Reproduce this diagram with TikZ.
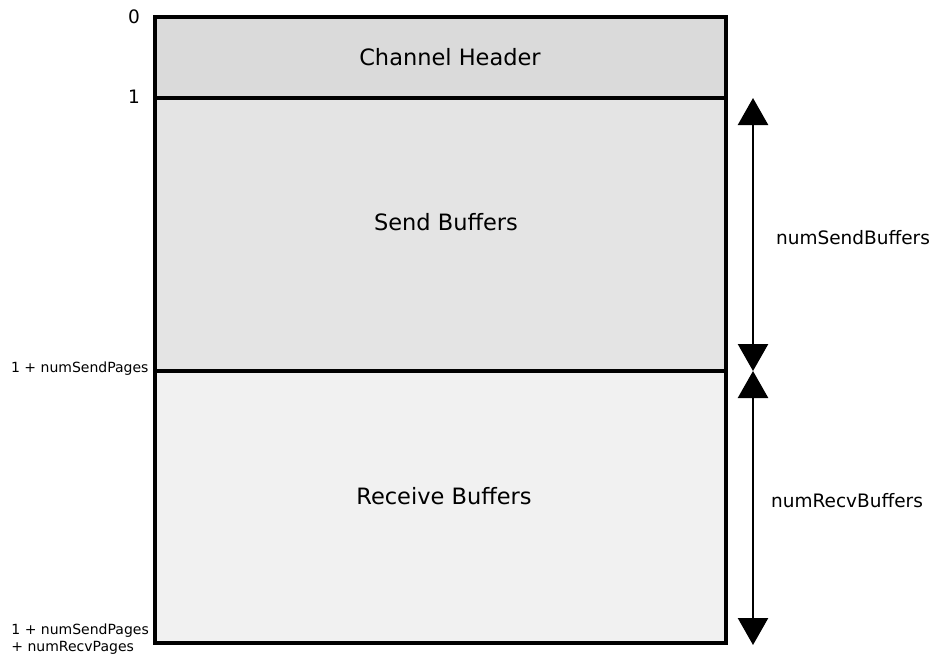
\documentclass[tikz,border=0pt]{standalone}
\usepackage{fontspec}
\setmainfont{DejaVu Sans}
\usetikzlibrary{arrows.meta}
\begin{document}
\begin{tikzpicture}[x=1pt,y=-1pt,
  region/.style={draw=black,line width=3.5pt},
  big/.style={font=\fontsize{22.5}{26}\selectfont},
  mid/.style={font=\fontsize{18.5}{22}\selectfont},
  small/.style={font=\fontsize{14}{17}\selectfont,align=left},
  dim/.style={line width=2.5pt,{Triangle[width=30pt,length=27pt]}-{Triangle[width=30pt,length=27pt]}}]
\useasboundingbox (0,0) rectangle (933,654);
\fill[fill={rgb,255:red,218;green,218;blue,218}] (155,17) rectangle (726,98);
\fill[fill={rgb,255:red,228;green,228;blue,228}] (155,98) rectangle (726,371);
\fill[fill={rgb,255:red,241;green,241;blue,241}] (155,371) rectangle (726,643);
\draw[region] (155,17) rectangle (726,643);
\draw[region] (155,98) -- (726,98);
\draw[region] (155,371) -- (726,371);
\node[big] (hdr) at (450,57) {Channel Header};
\node[big] (snd) at (446,222) {Send Buffers};
\node[big] (rcv) at (444,496) {Receive Buffers};
\node[mid] (l0) at (134,17) {0};
\node[mid] (l1) at (134,97) {1};
\node[small,anchor=east] (l2) at (152,369) {1 + numSendPages};
\node[small,anchor=east,inner sep=1pt] (l3) at (150,639) {1 + numSendPages\\+ numRecvPages};
\coordinate (a1) at (753,98);
\coordinate (a2) at (753,371);
\coordinate (a3) at (753,645);
\draw[dim] (a1) -- (a2);
\draw[dim] (a2) -- (a3);
\node[mid] (nsb) at (853,238) {numSendBuffers};
\node[mid] (nrb) at (847,501) {numRecvBuffers};
\end{tikzpicture}
\end{document}
